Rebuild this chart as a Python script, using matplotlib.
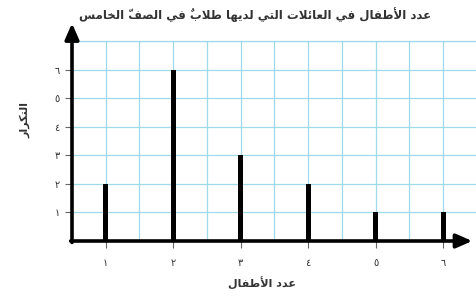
import matplotlib
matplotlib.use("Agg")
import matplotlib.pyplot as plt

# ---------------- data ----------------
children = [1, 2, 3, 4, 5, 6]
frequency = [2, 6, 3, 2, 1, 1]
x_tick_labels = ['١', '٢', '٣', '٤', '٥', '٦']
y_ticks = [1, 2, 3, 4, 5, 6]
y_tick_labels = ['١', '٢', '٣', '٤', '٥', '٦']
title_text = 'عدد الأطفال في العائلات التي لديها طلابٌ في الصفّ الخامس'
x_label_text = 'عدد الأطفال'
y_label_text = 'التكرار'

# ---------------- simple Arabic shaping (presentation forms + visual order) ----------------
FORMS = {
    'ا': (0xFE8D, 0xFE8E, None, None),
    'أ': (0xFE83, 0xFE84, None, None),
    'د': (0xFEA9, 0xFEAA, None, None),
    'ر': (0xFEAD, 0xFEAE, None, None),
    'ب': (0xFE8F, 0xFE90, 0xFE91, 0xFE92),
    'ت': (0xFE95, 0xFE96, 0xFE97, 0xFE98),
    'خ': (0xFEA5, 0xFEA6, 0xFEA7, 0xFEA8),
    'س': (0xFEB1, 0xFEB2, 0xFEB3, 0xFEB4),
    'ص': (0xFEB9, 0xFEBA, 0xFEBB, 0xFEBC),
    'ط': (0xFEC1, 0xFEC2, 0xFEC3, 0xFEC4),
    'ع': (0xFEC9, 0xFECA, 0xFECB, 0xFECC),
    'ف': (0xFED1, 0xFED2, 0xFED3, 0xFED4),
    'ك': (0xFED9, 0xFEDA, 0xFEDB, 0xFEDC),
    'ل': (0xFEDD, 0xFEDE, 0xFEDF, 0xFEE0),
    'م': (0xFEE1, 0xFEE2, 0xFEE3, 0xFEE4),
    'ه': (0xFEE9, 0xFEEA, 0xFEEB, 0xFEEC),
    'ي': (0xFEF1, 0xFEF2, 0xFEF3, 0xFEF4),
    'ئ': (0xFE89, 0xFE8A, 0xFE8B, 0xFE8C),
}
LAM_ALEF = {'ا': (0xFEFB, 0xFEFC), 'أ': (0xFEF7, 0xFEF8)}
MARKS = set('\u064B\u064C\u064D\u064E\u064F\u0650\u0651\u0652')


def shape(text):
    base = [c for c in text]
    res = []
    prev_joins = False
    i = 0
    n = len(base)

    def next_letter(j):
        while j < n and base[j] in MARKS:
            j += 1
        return (base[j], j) if j < n else ('', n)

    while i < n:
        c = base[i]
        if c in MARKS:
            if res:
                res[-1] = c + res[-1]
            i += 1
            continue
        if c not in FORMS:
            res.append(c)
            prev_joins = False
            i += 1
            continue
        nxt, j = next_letter(i + 1)
        if c == 'ل' and nxt in LAM_ALEF:
            iso, fin = LAM_ALEF[nxt]
            res.append(chr(fin if prev_joins else iso))
            prev_joins = False
            i = j + 1
            continue
        f = FORMS[c]
        dual = f[2] is not None
        joins_next = dual and nxt in FORMS
        if prev_joins and joins_next:
            g = f[3]
        elif prev_joins:
            g = f[1]
        elif joins_next:
            g = f[2]
        else:
            g = f[0]
        res.append(chr(g))
        prev_joins = joins_next
        i += 1
    return ''.join(reversed(res))


plt.rcParams['font.family'] = ['DejaVu Sans']

W, H = 477, 298
fig = plt.figure(figsize=(W / 100, H / 100), dpi=100)
ax = fig.add_axes([72 / W, 57 / H, (W - 72) / W, 200 / H])

grid_color = '#9fd9ec'
ax.set_xlim(0.5, 6.5)
ax.set_ylim(0, 7)

ax.bar(children, frequency, width=0.08, color='black', zorder=3)

ax.set_xticks(children)
ax.set_xticklabels(x_tick_labels)
ax.set_xticks([c - 0.5 for c in children] + [6.5], minor=True)
ax.set_yticks(y_ticks)
ax.set_yticklabels(y_tick_labels)
ax.set_yticks([7], minor=True)

ax.grid(True, which='both', color=grid_color, lw=0.9, zorder=0)
ax.tick_params(which='major', length=5, width=0.8, color='#666666',
               labelsize=7, labelcolor='#333333')
ax.tick_params(axis='x', which='major', pad=7)
ax.tick_params(axis='y', which='major', pad=4)
ax.tick_params(which='minor', length=0)

for s in ['left', 'bottom']:
    ax.spines[s].set_visible(False)
for s in ['top', 'right']:
    ax.spines[s].set_color(grid_color)
    ax.spines[s].set_linewidth(0.9)

arrow_kw = dict(arrowstyle='-|>,head_length=0.8,head_width=0.35', lw=2.6,
                color='black', shrinkA=0, shrinkB=0, mutation_scale=12)
ax.annotate('', xy=(0.5, 7.62), xytext=(0.5, -0.05), xycoords='data',
            arrowprops=arrow_kw, annotation_clip=False, zorder=5)
ax.annotate('', xy=(6.43, 0), xytext=(0.48, 0), xycoords='data',
            arrowprops=arrow_kw, annotation_clip=False, zorder=5)

fig.text(255 / W, 1 - 15 / H, shape(title_text), ha='center', va='center',
         fontsize=8.5, fontweight='bold', color='#333333')
fig.text(262 / W, 1 - 283 / H, shape(x_label_text), ha='center', va='center',
         fontsize=8, fontweight='bold', color='#333333')
fig.text(25 / W, 1 - 120 / H, shape(y_label_text), ha='center', va='center',
         fontsize=8, fontweight='bold', color='#333333', rotation=90)

fig.savefig('out.png', dpi=100)
